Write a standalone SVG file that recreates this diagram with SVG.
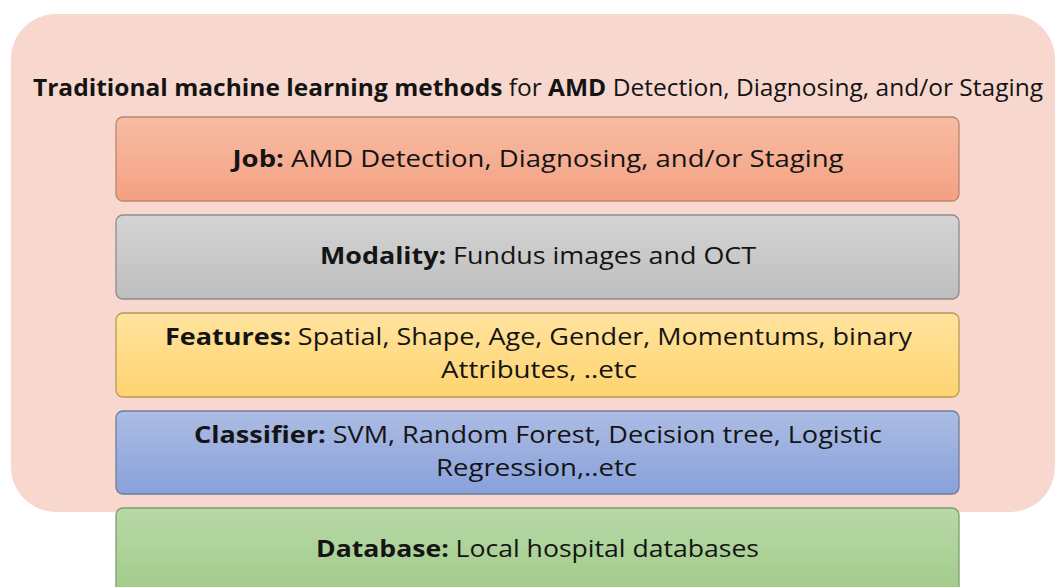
<svg xmlns="http://www.w3.org/2000/svg" width="1056" height="587" viewBox="0 0 1056 587">
<defs>
<linearGradient id="gJob" x1="0" y1="0" x2="0" y2="1"><stop offset="0" stop-color="#F7BDA3"/><stop offset="1" stop-color="#F4A083"/></linearGradient>
<linearGradient id="gMod" x1="0" y1="0" x2="0" y2="1"><stop offset="0" stop-color="#D4D4D4"/><stop offset="1" stop-color="#BEBEBE"/></linearGradient>
<linearGradient id="gFea" x1="0" y1="0" x2="0" y2="1"><stop offset="0" stop-color="#FFE39E"/><stop offset="1" stop-color="#FFD470"/></linearGradient>
<linearGradient id="gCla" x1="0" y1="0" x2="0" y2="1"><stop offset="0" stop-color="#ACBCE4"/><stop offset="1" stop-color="#89A1DA"/></linearGradient>
<linearGradient id="gDb" x1="0" y1="0" x2="0" y2="1"><stop offset="0" stop-color="#B8D9A8"/><stop offset="1" stop-color="#A0CA88"/></linearGradient>
</defs>
<style>
text{font-family:"Open Sans","Noto Sans","Liberation Sans",sans-serif;fill:#141414;text-anchor:middle}
.t{font-size:23.5px}
.b{font-weight:bold}
.box{stroke-width:1.3}
</style>
<rect width="1056" height="587" fill="#FFFFFF"/>
<g id="container">
<rect x="11" y="14" width="1044" height="498" rx="45" fill="#F8D8CE"/>
<text class="t" x="538" y="96" textLength="1010" lengthAdjust="spacingAndGlyphs"><tspan class="b">Traditional machine learning methods</tspan> for <tspan class="b">AMD</tspan> Detection, Diagnosing, and/or Staging</text>
</g>
<g id="job">
<rect class="box" x="116" y="117" width="843" height="84" rx="7" fill="url(#gJob)" stroke="#B88670"/>
<text class="t" x="538" y="167" textLength="611" lengthAdjust="spacingAndGlyphs"><tspan class="b">Job:</tspan> AMD Detection, Diagnosing, and/or Staging</text>
</g>
<g id="modality">
<rect class="box" x="116" y="215" width="843" height="84" rx="7" fill="url(#gMod)" stroke="#8C8C8C"/>
<text class="t" x="538" y="264" textLength="436" lengthAdjust="spacingAndGlyphs"><tspan class="b">Modality:</tspan> Fundus images and OCT</text>
</g>
<g id="features">
<rect class="box" x="116" y="313" width="843" height="84" rx="7" fill="url(#gFea)" stroke="#B59B55"/>
<text class="t" x="538.5" y="345" textLength="747" lengthAdjust="spacingAndGlyphs"><tspan class="b">Features:</tspan> Spatial, Shape, Age, Gender, Momentums, binary</text>
<text class="t" x="539" y="378" textLength="196" lengthAdjust="spacingAndGlyphs">Attributes, ..etc</text>
</g>
<g id="classifier">
<rect class="box" x="116" y="411" width="843" height="83" rx="7" fill="url(#gCla)" stroke="#6F7D9B"/>
<text class="t" x="538" y="443" textLength="688" lengthAdjust="spacingAndGlyphs"><tspan class="b">Classifier:</tspan> SVM, Random Forest, Decision tree, Logistic</text>
<text class="t" x="536.5" y="476" textLength="201" lengthAdjust="spacingAndGlyphs">Regression,..etc</text>
</g>
<g id="database">
<rect class="box" x="116" y="508" width="843" height="90" rx="7" fill="url(#gDb)" stroke="#819B6E"/>
<text class="t" x="537.5" y="557" textLength="443" lengthAdjust="spacingAndGlyphs"><tspan class="b">Database:</tspan> Local hospital databases</text>
</g>
<g id="connectors"/>
</svg>
